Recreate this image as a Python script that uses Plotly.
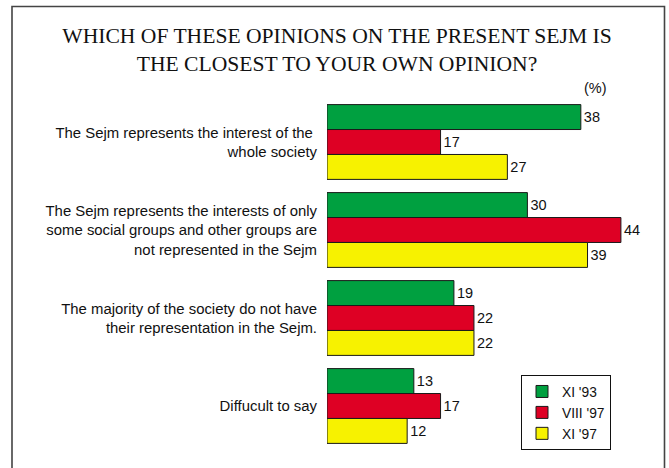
import plotly.graph_objects as go

categories = [
    "The Sejm represents the interest of the <br>whole society",
    "The Sejm represents the interests of only<br>some social groups and other groups are<br>not represented in the Sejm",
    "The majority of the society do not have<br>their representation in the Sejm.",
    "Diffucult to say",
]
series_names = ["XI '93", "VIII '97", "XI '97"]
values_xi93 = [38, 30, 19, 13]
values_viii97 = [17, 44, 22, 17]
values_xi97 = [27, 39, 22, 12]
colors = ["#00A040", "#DE0024", "#F7F200"]

SANS = "Liberation Sans, Arial, sans-serif"
SERIF = "Liberation Serif, Times New Roman, serif"

W, H = 669, 468
L, R, T, B = 327, 661, 98, 450


def px(wx):
    return (wx - L) / (R - L)


def py(wy):
    return (B - wy) / (B - T)


fig = go.Figure()
for name, vals, col in zip(series_names, [values_xi93, values_viii97, values_xi97], colors):
    fig.add_trace(go.Bar(
        y=categories, x=vals, name=name, orientation="h",
        marker=dict(color=col, line=dict(color="#1a1a1a", width=1)),
        text=[str(v) for v in vals], textposition="outside",
        textfont=dict(family=SANS, size=14.5, color="#111"),
        cliponaxis=False,
    ))

fig.update_layout(
    width=W, height=H,
    margin=dict(l=L, r=W - R, t=T, b=H - B, autoexpand=False),
    paper_bgcolor="white", plot_bgcolor="white",
    barmode="group", bargap=0.15, bargroupgap=0,
    title=dict(
        text="WHICH OF THESE OPINIONS ON THE PRESENT SEJM IS<br>THE CLOSEST TO YOUR OWN OPINION?",
        x=337 / W, xanchor="center", xref="container",
        y=1 - 43 / H, yanchor="middle", yref="container",
        font=dict(family=SERIF, size=21.6, color="#111"),
    ),
    xaxis=dict(range=[0, 50], visible=False),
    yaxis=dict(autorange="reversed", showgrid=False, showline=False, zeroline=False,
               ticks="", ticklabelstandoff=9, automargin=False,
               tickfont=dict(family=SANS, size=14.9, color="#111")),
    showlegend=True,
    legend=dict(
        x=px(521), y=py(375), xanchor="left", yanchor="top",
        bordercolor="#111", borderwidth=1, bgcolor="white",
        font=dict(family=SANS, size=13.8, color="#111"),
        itemwidth=30, traceorder="normal",
    ),
    annotations=[dict(
        text="(%)", x=px(595), y=py(88), xref="paper", yref="paper",
        showarrow=False, xanchor="center", yanchor="middle",
        font=dict(family=SANS, size=14.5, color="#111"),
    )],
    shapes=[dict(
        type="rect", xref="paper", yref="paper",
        x0=px(12), x1=px(664.5),
        y0=py(480), y1=py(6.5),
        line=dict(color="#444", width=1.6), fillcolor="rgba(0,0,0,0)", layer="above",
    )],
)

fig.write_html(
    "out.html",
    config={"displayModeBar": False},
    post_script="document.body.style.margin='0';document.body.style.overflow='hidden';",
)
